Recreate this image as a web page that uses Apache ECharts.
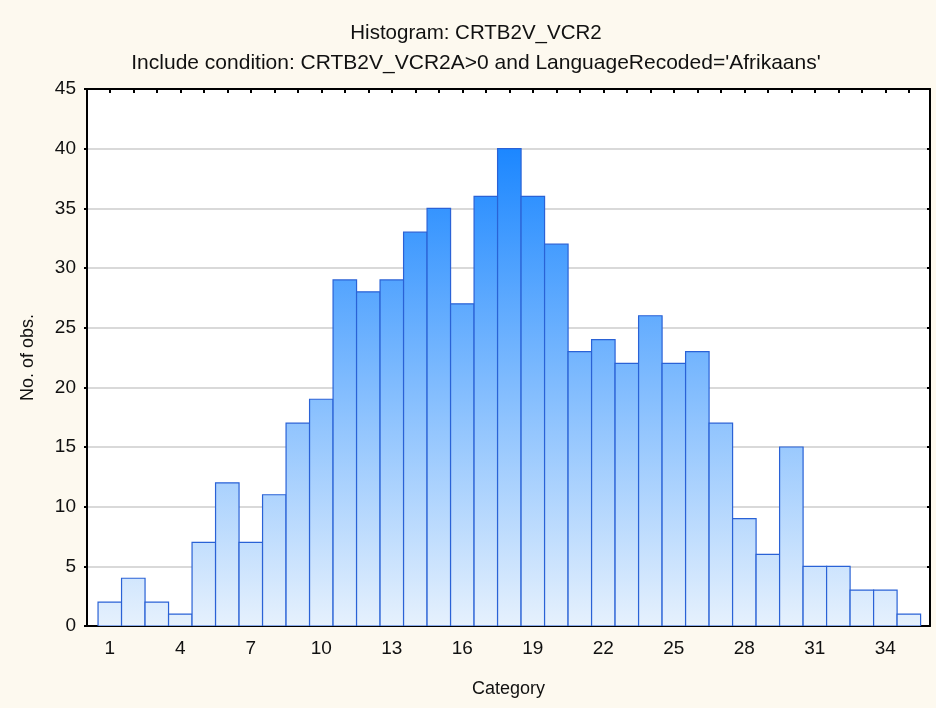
<!DOCTYPE html>
<html>
<head>
<meta charset="utf-8">
<title>Histogram: CRTB2V_VCR2</title>
<script src="https://cdn.jsdelivr.net/npm/echarts@6/dist/echarts.min.js"></script>
<style>
  html, body { margin: 0; padding: 0; background: #fdf9ef; }
  #main { width: 936px; height: 708px; }
</style>
</head>
<body>
<div id="main"></div>
<script>
// histogram bins (category numbers) and observed counts
var categories = [1, 2, 3, 4, 5, 6, 7, 8, 9, 10, 11, 12, 13, 14, 15, 16, 17, 18,
  19, 20, 21, 22, 23, 24, 25, 26, 27, 28, 29, 30, 31, 32, 33, 34, 35];
var counts = [2, 4, 2, 1, 7, 12, 7, 11, 17, 19, 29, 28, 29, 33, 35, 27, 36, 40,
  36, 32, 23, 24, 22, 26, 22, 23, 17, 9, 6, 15, 5, 5, 3, 3, 1];
// labelled ticks on the x axis
var xTickLabels = [1, 4, 7, 10, 13, 16, 19, 22, 25, 28, 31, 34];

var FONT = 'Arial, "Liberation Sans", sans-serif';

var chart = echarts.init(document.getElementById('main'));

var option = {
  backgroundColor: '#fdf9ef',
  animation: false,
  title: [
    {
      text: 'Histogram: CRTB2V_VCR2',
      left: 476,
      top: 23,
      padding: 0,
      textAlign: 'center',
      textStyle: { fontFamily: FONT, fontSize: 20.5, fontWeight: 'normal', color: '#111' }
    },
    {
      text: "Include condition: CRTB2V_VCR2A>0 and LanguageRecoded='Afrikaans'",
      left: 476,
      top: 53,
      padding: 0,
      textAlign: 'center',
      textStyle: { fontFamily: FONT, fontSize: 21, fontWeight: 'normal', color: '#111' }
    }
  ],
  grid: {
    left: 87, right: 6, top: 89, bottom: 82,
    show: true,
    backgroundColor: '#ffffff',
    borderWidth: 0
  },
  xAxis: [
    {
      type: 'value',
      min: 0.03,
      max: 35.9,
      position: 'bottom',
      name: 'Category',
      nameLocation: 'middle',
      nameGap: 54,
      nameTextStyle: { fontFamily: FONT, fontSize: 18, color: '#111' },
      axisLine: { show: true, onZero: false, lineStyle: { color: '#000', width: 2 } },
      axisTick: { show: true, inside: true, length: 4, customValues: categories,
        lineStyle: { color: '#000', width: 2 } },
      axisLabel: { customValues: xTickLabels, margin: 13,
        fontFamily: FONT, fontSize: 19, color: '#111' },
      splitLine: { show: false }
    },
    {
      type: 'value',
      min: 0.03,
      max: 35.9,
      position: 'top',
      axisLine: { show: true, onZero: false, lineStyle: { color: '#000', width: 2 } },
      axisTick: { show: true, inside: true, length: 4, customValues: categories,
        lineStyle: { color: '#000', width: 2 } },
      axisLabel: { show: false },
      splitLine: { show: false }
    }
  ],
  yAxis: [
    {
      type: 'value',
      min: 0,
      max: 45,
      interval: 5,
      position: 'left',
      name: 'No. of obs.',
      nameLocation: 'middle',
      nameGap: 50,
      nameTextStyle: { fontFamily: FONT, fontSize: 18, color: '#111' },
      axisLine: { show: true, onZero: false, lineStyle: { color: '#000', width: 2 } },
      axisTick: { show: true, inside: false, length: 3, lineStyle: { color: '#000', width: 2 } },
      axisLabel: { margin: 11, fontFamily: FONT, fontSize: 19, color: '#111' },
      splitLine: { show: true, lineStyle: { color: '#d9d9d9', width: 2 } }
    },
    {
      type: 'value',
      min: 0,
      max: 45,
      interval: 5,
      position: 'right',
      axisLine: { show: true, onZero: false, lineStyle: { color: '#000', width: 2 } },
      axisTick: { show: true, inside: true, length: 3, lineStyle: { color: '#000', width: 2 } },
      axisLabel: { show: false },
      splitLine: { show: false }
    }
  ],
  series: [
    {
      type: 'custom',
      xAxisIndex: 0,
      yAxisIndex: 0,
      clip: true,
      data: categories.map(function (c, i) { return [c, counts[i]]; }),
      renderItem: function (params, api) {
        var x = api.value(0);
        var y = api.value(1);
        var topLeft = api.coord([x - 0.5, y]);
        var botRight = api.coord([x + 0.5, 0]);
        var g0 = api.coord([x, 0]);
        var g1 = api.coord([x, 40]);
        return {
          type: 'rect',
          shape: {
            x: topLeft[0],
            y: topLeft[1],
            width: botRight[0] - topLeft[0],
            height: botRight[1] - topLeft[1]
          },
          style: {
            fill: new echarts.graphic.LinearGradient(0, g0[1], 0, g1[1], [
              { offset: 0, color: '#e6f1fd' },
              { offset: 1, color: '#1c87ff' }
            ], true),
            stroke: '#2a62d6',
            lineWidth: 1.2
          }
        };
      }
    }
  ]
};

chart.setOption(option);
</script>
</body>
</html>
